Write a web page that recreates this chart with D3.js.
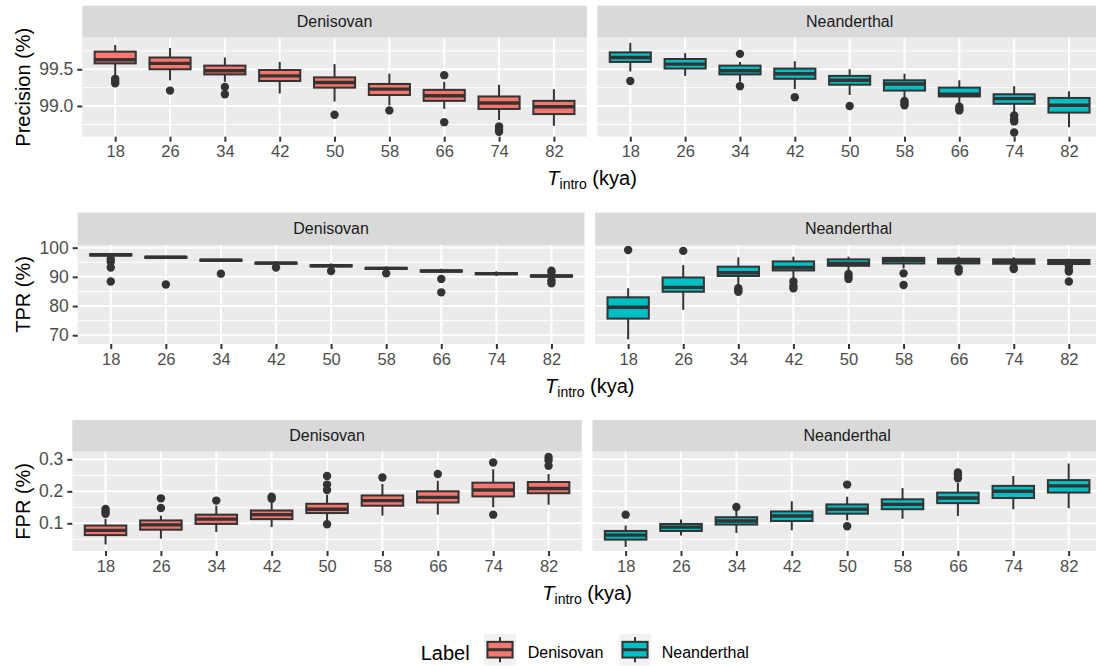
<!DOCTYPE html>
<html>
<head>
<meta charset="utf-8">
<script src="https://cdn.jsdelivr.net/npm/d3@7"></script>
<style>
  body { margin: 0; background: #fff; }
  text { font-family: "Liberation Sans", Arial, Helvetica, sans-serif; }
</style>
</head>
<body>
<div id="chart"></div>
<script>
// introgression time categories (kya)
var tIntro = [18, 26, 34, 42, 50, 58, 66, 74, 82];
var labels = ["Denisovan", "Neanderthal"];
var colors = ["#F8766D", "#00BFC4"];

// each entry: [lower whisker, q1, median, q3, upper whisker]
var precisionDen = [
  [99.42, 99.58, 99.63, 99.74, 99.83], [99.35, 99.50, 99.58, 99.66, 99.79],
  [99.33, 99.43, 99.48, 99.55, 99.66], [99.17, 99.34, 99.41, 99.49, 99.60],
  [99.06, 99.25, 99.32, 99.39, 99.57], [99.01, 99.15, 99.23, 99.30, 99.44],
  [98.96, 99.07, 99.14, 99.22, 99.33], [98.81, 98.96, 99.04, 99.13, 99.29],
  [98.73, 98.89, 98.99, 99.07, 99.23]
];
var precisionDenOut = [
  [99.37, 99.34, 99.31], [99.21], [99.26, 99.16], [], [98.88], [98.94],
  [99.42, 98.78], [98.72, 98.68, 98.65], []
];
var precisionNea = [
  [99.47, 99.60, 99.66, 99.73, 99.86], [99.41, 99.51, 99.57, 99.64, 99.72],
  [99.33, 99.43, 99.48, 99.55, 99.60], [99.23, 99.37, 99.44, 99.51, 99.61],
  [99.15, 99.29, 99.35, 99.41, 99.50], [99.08, 99.21, 99.30, 99.35, 99.44],
  [99.01, 99.13, 99.16, 99.25, 99.35], [98.90, 99.03, 99.10, 99.16, 99.27],
  [98.71, 98.91, 99.01, 99.11, 99.20]
];
var precisionNeaOut = [
  [99.34], [], [99.71, 99.27], [99.12], [99.00], [99.07, 99.04, 99.01],
  [98.99, 98.96, 98.94], [98.87, 98.82, 98.79, 98.64], []
];

var tprDen = [
  [96.6, 97.3, 97.6, 97.8, 98.2], [96.2, 96.5, 96.7, 96.9, 97.2],
  [95.1, 95.5, 95.7, 95.9, 96.2], [94.0, 94.5, 94.7, 94.9, 95.4],
  [93.2, 93.6, 93.8, 94.0, 94.6], [92.3, 92.7, 92.9, 93.1, 93.6],
  [91.3, 91.8, 92.0, 92.2, 92.8], [90.3, 90.9, 91.1, 91.3, 91.9],
  [89.6, 90.1, 90.3, 90.5, 91.0]
];
var tprDenOut = [
  [96.1, 95.2, 93.2, 88.4], [87.4], [91.1], [93.2], [92.0], [91.2],
  [89.3, 84.7], [], [92.1, 91.5, 88.8, 87.8]
];
var tprNea = [
  [68.6, 75.7, 79.6, 83.0, 86.1], [78.7, 84.9, 86.4, 89.8, 94.1],
  [86.9, 90.3, 91.4, 93.5, 96.7], [88.9, 92.2, 93.2, 95.3, 96.9],
  [91.8, 93.8, 94.6, 96.0, 96.9], [92.9, 94.6, 95.7, 96.5, 96.9],
  [93.5, 94.6, 95.4, 96.2, 96.9], [93.5, 94.5, 95.2, 96.0, 96.7],
  [93.2, 94.4, 95.1, 95.8, 96.2]
];
var tprNeaOut = [
  [99.2], [98.9], [86.1, 85.3, 84.9], [88.4, 86.9, 86.1], [91.0, 90.1, 89.3],
  [91.2, 87.2], [92.9, 91.8], [93.1, 92.7], [93.7, 92.4, 91.8, 88.4]
];

var fprDen = [
  [0.034, 0.063, 0.078, 0.093, 0.114], [0.052, 0.080, 0.095, 0.109, 0.124],
  [0.073, 0.098, 0.113, 0.127, 0.155], [0.088, 0.113, 0.127, 0.140, 0.166],
  [0.104, 0.132, 0.144, 0.161, 0.189], [0.124, 0.155, 0.171, 0.187, 0.223],
  [0.127, 0.165, 0.181, 0.200, 0.233], [0.150, 0.184, 0.204, 0.227, 0.269],
  [0.158, 0.194, 0.209, 0.229, 0.254]
];
var fprDenOut = [
  [0.145, 0.137, 0.130], [0.178, 0.148], [0.171], [0.183, 0.177],
  [0.248, 0.221, 0.204, 0.097], [0.243], [0.254], [0.290, 0.127],
  [0.307, 0.297, 0.280]
];
var fprNea = [
  [0.026, 0.049, 0.063, 0.076, 0.093], [0.062, 0.076, 0.088, 0.098, 0.112],
  [0.070, 0.096, 0.107, 0.119, 0.140], [0.078, 0.107, 0.123, 0.137, 0.169],
  [0.109, 0.130, 0.144, 0.159, 0.183], [0.114, 0.144, 0.159, 0.175, 0.210],
  [0.123, 0.163, 0.179, 0.196, 0.226], [0.144, 0.179, 0.200, 0.217, 0.248],
  [0.147, 0.196, 0.217, 0.235, 0.287]
];
var fprNeaOut = [
  [0.127], [], [0.151], [], [0.221, 0.091], [], [0.259, 0.252, 0.241], [], []
];

// axis ticks per row
var precisionTicks = [99.0, 99.5];
var tprTicks = [70, 80, 90, 100];
var fprTicks = [0.1, 0.2, 0.3];

var width = 1096, height = 666;
var rightEdge = 1101.9, gap = 10.6;

var rows = [
  {title: "Precision (%)", stats: [precisionDen, precisionNea], outs: [precisionDenOut, precisionNeaOut],
   ticks: precisionTicks, fmt: d3.format(".1f"), domain: [98.582, 99.93],
   left: 82.3, stripTop: 5.7, top: 37.7, bottom: 136.7},
  {title: "TPR (%)", stats: [tprDen, tprNea], outs: [tprDenOut, tprNeaOut],
   ticks: tprTicks, fmt: d3.format("d"), domain: [67.0, 100.92],
   left: 77.7, stripTop: 212.7, top: 245, bottom: 344},
  {title: "FPR (%)", stats: [fprDen, fprNea], outs: [fprDenOut, fprNeaOut],
   ticks: fprTicks, fmt: d3.format(".1f"), domain: [0.0134, 0.3238],
   left: 72.3, stripTop: 420, top: 451.7, bottom: 551}
];

var svg = d3.select("#chart")
    .append("svg")
    .attr("width", width)
    .attr("height", height)
    .attr("viewBox", "0 0 " + width + " " + height);

rows.forEach(function(row) {
    var panelW = (rightEdge - row.left - gap) / 2;
    var yScale = d3.scaleLinear().domain(row.domain).range([row.bottom, row.top]);

    // minor breaks halfway between the major ones
    var step = row.ticks[1] - row.ticks[0];
    var minor = [];
    for (var i = -1; i < row.ticks.length; i++) {
        var m = row.ticks[0] + (i + 0.5) * step;
        if (m > row.domain[0] && m < row.domain[1]) minor.push(m);
    }

    labels.forEach(function(lab, p) {
        var x0 = row.left + p * (panelW + gap);
        var xScale = d3.scalePoint().domain(tIntro).range([x0, x0 + panelW]).padding(0.6);
        var g = svg.append("g");

        // strip
        g.append("rect")
            .attr("x", x0).attr("y", row.stripTop)
            .attr("width", panelW).attr("height", row.top - row.stripTop)
            .attr("fill", "#D9D9D9");
        g.append("text")
            .attr("x", x0 + panelW / 2)
            .attr("y", (row.stripTop + row.top) / 2)
            .attr("dy", "0.35em")
            .attr("text-anchor", "middle")
            .attr("font-size", 16)
            .attr("fill", "#1A1A1A")
            .text(lab);

        // panel background and grid
        g.append("rect")
            .attr("x", x0).attr("y", row.top)
            .attr("width", panelW).attr("height", row.bottom - row.top)
            .attr("fill", "#EBEBEB");
        g.selectAll(".minor").data(minor).enter().append("line")
            .attr("x1", x0).attr("x2", x0 + panelW)
            .attr("y1", function(d) { return yScale(d); })
            .attr("y2", function(d) { return yScale(d); })
            .attr("stroke", "#fff").attr("stroke-width", 1);
        g.selectAll(".hmajor").data(row.ticks).enter().append("line")
            .attr("x1", x0).attr("x2", x0 + panelW)
            .attr("y1", function(d) { return yScale(d); })
            .attr("y2", function(d) { return yScale(d); })
            .attr("stroke", "#fff").attr("stroke-width", 2);
        g.selectAll(".vmajor").data(tIntro).enter().append("line")
            .attr("x1", function(d) { return xScale(d); })
            .attr("x2", function(d) { return xScale(d); })
            .attr("y1", row.top).attr("y2", row.bottom)
            .attr("stroke", "#fff").attr("stroke-width", 2);

        // x axis
        var xAxis = d3.axisBottom(xScale).tickSize(5).tickPadding(4);
        var gx = g.append("g")
            .attr("transform", "translate(0," + row.bottom + ")")
            .call(xAxis);
        gx.select(".domain").remove();
        gx.selectAll(".tick line").attr("stroke", "#333333").attr("stroke-width", 2);
        gx.selectAll(".tick text")
            .attr("font-size", 16.5).attr("fill", "#4D4D4D")
            .attr("font-family", "Liberation Sans, Arial, sans-serif");

        // y axis on the left panel only
        if (p === 0) {
            var yAxis = d3.axisLeft(yScale).tickValues(row.ticks).tickFormat(row.fmt)
                .tickSize(5).tickPadding(4);
            var gy = g.append("g")
                .attr("transform", "translate(" + x0 + ",0)")
                .call(yAxis);
            gy.select(".domain").remove();
            gy.selectAll(".tick line").attr("stroke", "#333333").attr("stroke-width", 2);
            gy.selectAll(".tick text")
                .attr("font-size", 17.5).attr("fill", "#4D4D4D")
                .attr("font-family", "Liberation Sans, Arial, sans-serif");
        }

        // boxplots
        var stats = row.stats[p];
        var outs = row.outs[p];
        var bw = xScale.step() * 0.75;
        var box = g.selectAll(".box").data(tIntro).enter().append("g");

        box.append("line")
            .attr("x1", function(d) { return xScale(d); })
            .attr("x2", function(d) { return xScale(d); })
            .attr("y1", function(d, i) { return yScale(stats[i][0]); })
            .attr("y2", function(d, i) { return yScale(stats[i][4]); })
            .attr("stroke", "#333333").attr("stroke-width", 2);
        box.append("rect")
            .attr("x", function(d) { return xScale(d) - bw / 2; })
            .attr("y", function(d, i) { return yScale(stats[i][3]); })
            .attr("width", bw)
            .attr("height", function(d, i) { return Math.max(0.5, yScale(stats[i][1]) - yScale(stats[i][3])); })
            .attr("fill", colors[p])
            .attr("stroke", "#333333").attr("stroke-width", 2);
        box.append("line")
            .attr("x1", function(d) { return xScale(d) - bw / 2; })
            .attr("x2", function(d) { return xScale(d) + bw / 2; })
            .attr("y1", function(d, i) { return yScale(stats[i][2]); })
            .attr("y2", function(d, i) { return yScale(stats[i][2]); })
            .attr("stroke", "#333333").attr("stroke-width", 3.4);
        box.each(function(d, i) {
            d3.select(this).selectAll("circle").data(outs[i]).enter().append("circle")
                .attr("cx", xScale(d))
                .attr("cy", function(v) { return yScale(v); })
                .attr("r", 4.2)
                .attr("fill", "#333333");
        });
    });

    // axis titles
    var midX = (row.left + rightEdge) / 2;
    var xt = svg.append("text")
        .attr("x", midX)
        .attr("y", row.bottom + 48.5)
        .attr("text-anchor", "middle")
        .attr("font-size", 20)
        .attr("fill", "#000");
    xt.append("tspan").attr("font-style", "italic").text("T");
    xt.append("tspan").attr("font-size", 14).attr("dy", 4).text("intro");
    xt.append("tspan").attr("dy", -4).text(" (kya)");

    svg.append("text")
        .attr("transform", "translate(23," + ((row.top + row.bottom) / 2) + ") rotate(-90)")
        .attr("dy", "0.35em")
        .attr("text-anchor", "middle")
        .attr("font-size", 20)
        .attr("fill", "#000")
        .text(row.title);
});

// legend
var legend = svg.append("g");
legend.append("text")
    .attr("x", 420.7).attr("y", 652.7)
    .attr("dy", "0.35em")
    .attr("font-size", 20)
    .text("Label");

var keyX = [484.3, 619.3];
var textX = [527.7, 661.7];
var keySize = 31.4, keyTop = 634;
labels.forEach(function(lab, i) {
    var k = legend.append("g").attr("transform", "translate(" + keyX[i] + "," + keyTop + ")");
    k.append("rect").attr("width", keySize).attr("height", keySize).attr("fill", "#F2F2F2");
    k.append("line")
        .attr("x1", keySize / 2).attr("x2", keySize / 2)
        .attr("y1", keySize * 0.1).attr("y2", keySize * 0.9)
        .attr("stroke", "#333333").attr("stroke-width", 2);
    k.append("rect")
        .attr("x", keySize * 0.1).attr("y", keySize * 0.25)
        .attr("width", keySize * 0.8).attr("height", keySize * 0.5)
        .attr("fill", colors[i]).attr("stroke", "#333333").attr("stroke-width", 2);
    k.append("line")
        .attr("x1", keySize * 0.1).attr("x2", keySize * 0.9)
        .attr("y1", keySize / 2).attr("y2", keySize / 2)
        .attr("stroke", "#333333").attr("stroke-width", 3);
    legend.append("text")
        .attr("x", textX[i]).attr("y", 652.7)
        .attr("dy", "0.35em")
        .attr("font-size", 16)
        .text(lab);
});
</script>
</body>
</html>
